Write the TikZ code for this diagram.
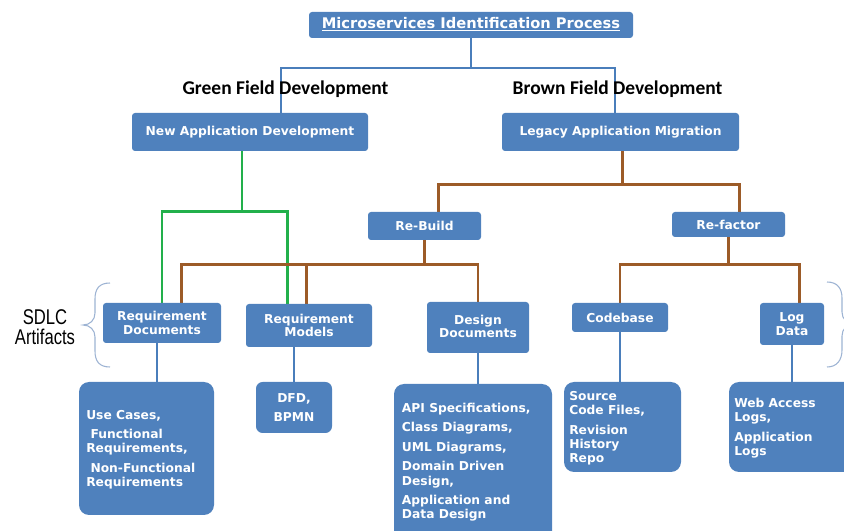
\documentclass[tikz,border=0pt]{standalone}
\usepackage{fontspec}
\setmainfont{DejaVu Sans}
\newfontfamily\calfont{Carlito}
\newfontfamily\sdlcfont[FakeStretch=0.78]{Liberation Sans}
\usetikzlibrary{fit,calc}
\definecolor{boxblue}{HTML}{4F81BD}
\definecolor{lineblue}{HTML}{4A7EBB}
\definecolor{brownc}{HTML}{9C5B28}
\definecolor{greenc}{HTML}{22B04B}
\definecolor{bracec}{HTML}{9DB3D3}
\pgfdeclarelayer{bg}
\pgfsetlayers{bg,main}
\begin{document}
\begin{tikzpicture}[x=0.75pt,y=-0.75pt,
  box/.style={fill=boxblue, rounded corners=2.25pt, inner sep=0pt},
  bigbox/.style={box, rounded corners=7.5pt},
  ctxt/.style={text=white, inner sep=0pt, align=center,
    font=\bfseries\fontsize{9.2}{10.3}\selectfont},
  btxt/.style={text=white, font=\bfseries\fontsize{9.2}{10.7}\selectfont,
    align=left, inner sep=0pt, anchor=north west},
  fieldlbl/.style={font=\calfont\bfseries\fontsize{14.6}{16}\selectfont, anchor=base, inner sep=0pt},
  topline/.style={draw=lineblue, line width=1.5pt},
  brownline/.style={draw=brownc, line width=2pt},
  greenline/.style={draw=greenc, line width=2pt},
  lowline/.style={draw=lineblue, line width=1.8pt},
  bracestyle/.style={draw=bracec, line width=0.8pt}]
\useasboundingbox (0,0) rectangle (844,531);
\clip (0,0) rectangle (844,531);

% boxes
\node[box, fit={(309,12) (633,38)}] (title) {};
\node[ctxt, font=\bfseries\fontsize{11}{12}\selectfont] (titlet) at ($(title.center)+(0,-1)$) {\underline{Microservices Identification Process}};
\node[fieldlbl] (gfd) at (285.5,95) {Green Field Development};
\node[fieldlbl] (bfd) at (617.5,95) {Brown Field Development};
\node[box, fit={(132,113) (368,151)}] (newapp) {};
\node[ctxt] (newappt) at (newapp.center) {New Application Development};
\node[box, fit={(502,113) (739,151)}] (legacy) {};
\node[ctxt] (legacyt) at (legacy.center) {Legacy Application Migration};
\node[box, fit={(368,212) (481,240)}] (rebuild) {};
\node[ctxt] (rebuildt) at (rebuild.center) {Re-Build};
\node[box, fit={(672,212) (785,237)}] (refactor) {};
\node[ctxt] (refactort) at (refactor.center) {Re-factor};
\node[box, fit={(103,303) (221,343)}] (reqdoc) {};
\node[ctxt] (reqdoct) at (reqdoc.center) {Requirement\\Documents};
\node[box, fit={(246,304) (372,347)}] (reqmod) {};
\node[ctxt] (reqmodt) at (reqmod.center) {Requirement\\Models};
\node[box, fit={(427,302) (529,353)}] (design) {};
\node[ctxt] (designt) at ($(design.center)+(0,-1)$) {Design\\Documents};
\node[box, fit={(572,303) (668,332)}] (codebase) {};
\node[ctxt] (codebaset) at (codebase.center) {Codebase};
\node[box, fit={(760,303) (824,345)}] (logdata) {};
\node[ctxt] (logdatat) at (logdata.center) {Log\\Data};

\node[bigbox, fit={(79,382) (214,515)}] (usecase) {};
\node[box, rounded corners=5pt, fit={(256,382) (332,433)}] (dfd) {};
\node[ctxt] (dfdt) at (dfd.center) {DFD,\\[3.4pt]BPMN};
\node[bigbox, fit={(394,384) (552,545)}] (api) {};
\node[bigbox, fit={(564,382) (681,472)}] (source) {};
\node[bigbox, fit={(729,382) (870,472)}] (web) {};

\node[btxt] (uctext) at (86,409.8) {Use Cases,\\[3.9pt]\ Functional\\Requirements,\\[3.9pt]\ Non-Functional\\Requirements};
\node[btxt] (apitext) at (401.7,402.8) {API Specifications,\\[3.9pt]Class Diagrams,\\[3.9pt]UML Diagrams,\\[3.9pt]Domain Driven\\Design,\\[3.9pt]Application and\\Data Design};
\node[btxt] (srctext) at (569,391.2) {Source\\Code Files,\\[3.9pt]Revision\\History\\Repo};
\node[btxt] (webtext) at (734,397.8) {Web Access\\Logs,\\[3.9pt]Application\\Logs};

\node[font=\sdlcfont\fontsize{16}{15}\selectfont, align=center, inner sep=0pt] (sdlc) at (45,327) {SDLC\\Artifacts};

% braces
\draw[bracestyle] (110,283) .. controls (99,283) and (95,289) .. (95,299) -- (95,313)
  .. controls (95,320) and (90,325) .. (83,325)
  .. controls (90,325) and (95,330) .. (95,337) -- (95,351)
  .. controls (95,361) and (99,367) .. (110,367);
\draw[bracestyle] (827,282) .. controls (837,282) and (842,288) .. (842,298) -- (842,312)
  .. controls (842,319) and (847,324) .. (854,324)
  .. controls (847,324) and (842,329) .. (842,336) -- (842,350)
  .. controls (842,360) and (837,367) .. (827,367);

% connectors
\begin{pgfonlayer}{bg}
\draw[topline] (title.south) -- ++(0,30) coordinate (th);
\coordinate (gfdin) at ($(newapp.north west)+(149,0)$);
\coordinate (bfdin) at ($(legacy.north west)+(113,0)$);
\draw[topline] (gfdin) |- (th) -| (bfdin);

\draw[brownline] ($(legacy.south)+(2,0)$) -- ++(0,33) coordinate (bh);
\coordinate (rbin) at ($(rebuild.north west)+(71,0)$);
\coordinate (rfin) at ($(refactor.north west)+(68,0)$);
\draw[brownline] (rbin) |- (bh) -| (rfin);

\draw[greenline] ($(newapp.south)+(-8,0)$) -- ++(0,60) coordinate (gh);
\coordinate (rmg) at ($(reqmod.north west)+(42,0)$);
\draw[greenline] (reqdoc.north) |- (gh) -| (rmg);

\draw[brownline] (rebuild.south) -- ++(0,24) coordinate (rh);
\coordinate (rdb) at ($(reqdoc.north west)+(79,0)$);
\coordinate (rmb) at ($(reqmod.north west)+(61,0)$);
\draw[brownline] (rdb) |- (rh) -| (design.north);
\draw[brownline] (rmb) -- (rmb |- rh);

\draw[brownline] (refactor.south) -- ++(0,27) coordinate (fh);
\coordinate (ldb) at ($(logdata.north west)+(40,0)$);
\draw[brownline] (codebase.north) |- (fh) -| (ldb);

\coordinate (rdl) at ($(reqdoc.south)+(-5,0)$);
\draw[lowline] (rdl) -- (rdl |- usecase.north);
\draw[lowline] (dfd.north |- reqmod.south) -- (dfd.north);
\draw[lowline] (design.south) -- (design.south |- api.north);
\draw[lowline] (codebase.south) -- (codebase.south |- source.north);
\draw[lowline] (logdata.south) -- (logdata.south |- web.north);
\end{pgfonlayer}
\end{tikzpicture}
\end{document}
